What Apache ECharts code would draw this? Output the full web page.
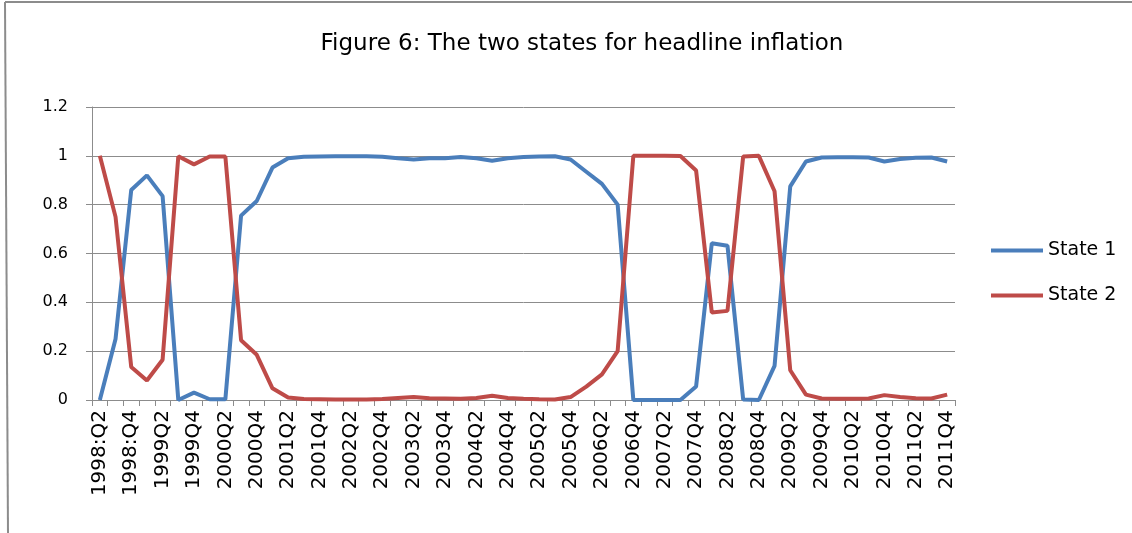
<!DOCTYPE html>
<html lang="en">
<head>
    <meta charset="utf-8"/>
    <title>Figure 6: The two states for headline inflation</title>
    <script src="https://cdn.jsdelivr.net/npm/echarts@6/dist/echarts.min.js"></script>
</head>
<style>
    html, body { margin: 0; padding: 0; background: #fff; }
    #main { width: 1132px; height: 533px; }
</style>
<body>
<div id="main"></div>
<script>
    var quarters = [
        '1998:Q2', '1998:Q3', '1998:Q4',
        '1999Q1', '1999Q2', '1999Q3', '1999Q4',
        '2000Q1', '2000Q2', '2000Q3', '2000Q4',
        '2001Q1', '2001Q2', '2001Q3', '2001Q4',
        '2002Q1', '2002Q2', '2002Q3', '2002Q4',
        '2003Q1', '2003Q2', '2003Q3', '2003Q4',
        '2004Q1', '2004Q2', '2004Q3', '2004Q4',
        '2005Q1', '2005Q2', '2005Q3', '2005Q4',
        '2006Q1', '2006Q2', '2006Q3', '2006Q4',
        '2007Q1', '2007Q2', '2007Q3', '2007Q4',
        '2008Q1', '2008Q2', '2008Q3', '2008Q4',
        '2009Q1', '2009Q2', '2009Q3', '2009Q4',
        '2010Q1', '2010Q2', '2010Q3', '2010Q4',
        '2011Q1', '2011Q2', '2011Q3', '2011Q4'
    ];

    var state1 = [
        0.0, 0.25, 0.86, 0.92, 0.835, 0.0, 0.03, 0.003, 0.003, 0.755, 0.815,
        0.952, 0.99, 0.996, 0.997, 0.998, 0.998, 0.998, 0.996, 0.99, 0.985,
        0.99, 0.99, 0.995, 0.99, 0.98, 0.99, 0.995, 0.997, 0.998, 0.985,
        0.935, 0.885, 0.80, 0.0, 0.0, 0.0, 0.0, 0.055, 0.642, 0.632,
        0.002, 0.0, 0.14, 0.875, 0.977, 0.993, 0.994, 0.994, 0.993, 0.977,
        0.987, 0.992, 0.993, 0.977
    ];

    var state2 = [
        1.0, 0.75, 0.135, 0.08, 0.165, 0.998, 0.965, 0.997, 0.997, 0.245, 0.185,
        0.048, 0.01, 0.004, 0.003, 0.002, 0.002, 0.002, 0.004, 0.008, 0.012,
        0.007, 0.006, 0.005, 0.008, 0.017, 0.008, 0.005, 0.003, 0.002, 0.012,
        0.055, 0.105, 0.20, 1.0, 1.0, 1.0, 0.999, 0.94, 0.358, 0.365,
        0.997, 1.0, 0.855, 0.122, 0.022, 0.006, 0.005, 0.005, 0.006, 0.02,
        0.012, 0.007, 0.006, 0.022
    ];

    var yTicks = [0, 0.2, 0.4, 0.6, 0.8, 1, 1.2];

    var chartDom = document.getElementById('main');
    var myChart = echarts.init(chartDom);
    var option;

    option = {
        animation: false,
        backgroundColor: '#fff',
        textStyle: { fontFamily: 'DejaVu Sans' },
        title: {
            text: 'Figure 6: The two states for headline inflation',
            left: 577,
            top: 28,
            textAlign: 'center',
            textStyle: {
                fontFamily: 'DejaVu Sans',
                fontSize: 23,
                fontWeight: 'normal',
                color: '#000'
            }
        },
        graphic: [
            { type: 'line', shape: { x1: 5, y1: 2, x2: 1132, y2: 2 }, style: { stroke: '#8c8c8c', lineWidth: 2 } },
            { type: 'line', shape: { x1: 5, y1: 2, x2: 8, y2: 533 }, style: { stroke: '#8c8c8c', lineWidth: 2 } }
        ],
        legend: {
            orient: 'vertical',
            left: 986,
            top: 236,
            icon: 'rect',
            itemWidth: 52,
            itemHeight: 4,
            itemGap: 26,
            textStyle: { fontFamily: 'DejaVu Sans', fontSize: 19, color: '#000' },
            data: ['State 1', 'State 2']
        },
        grid: {
            left: 92,
            right: 177,
            top: 107,
            bottom: 133
        },
        xAxis: {
            type: 'category',
            data: quarters,
            boundaryGap: true,
            axisLine: { lineStyle: { color: '#8c8c8c', width: 1 } },
            axisTick: { show: true, interval: 0, length: 6, lineStyle: { color: '#8c8c8c' } },
            axisLabel: {
                interval: 1,
                rotate: 90,
                margin: 10,
                fontFamily: 'DejaVu Sans',
                fontSize: 20,
                color: '#000'
            },
            splitLine: { show: false }
        },
        yAxis: {
            type: 'value',
            min: yTicks[0],
            max: yTicks[yTicks.length - 1],
            interval: 0.2,
            axisLine: { show: true, lineStyle: { color: '#8c8c8c', width: 1 } },
            axisTick: { show: true, length: 6, lineStyle: { color: '#8c8c8c' } },
            axisLabel: {
                margin: 24,
                fontFamily: 'DejaVu Sans',
                fontSize: 16,
                color: '#000',
                formatter: function (v) { return String(Math.round(v * 10) / 10); }
            },
            splitLine: { show: true, lineStyle: { color: '#8c8c8c', width: 1 } }
        },
        series: [
            {
                name: 'State 1',
                type: 'line',
                data: state1,
                symbol: 'none',
                color: '#4a7ebb',
                lineStyle: { width: 4, color: '#4a7ebb' }
            },
            {
                name: 'State 2',
                type: 'line',
                data: state2,
                symbol: 'none',
                color: '#be4b48',
                lineStyle: { width: 4, color: '#be4b48' }
            }
        ]
    };
    option && myChart.setOption(option);
</script>
</body>
</html>
